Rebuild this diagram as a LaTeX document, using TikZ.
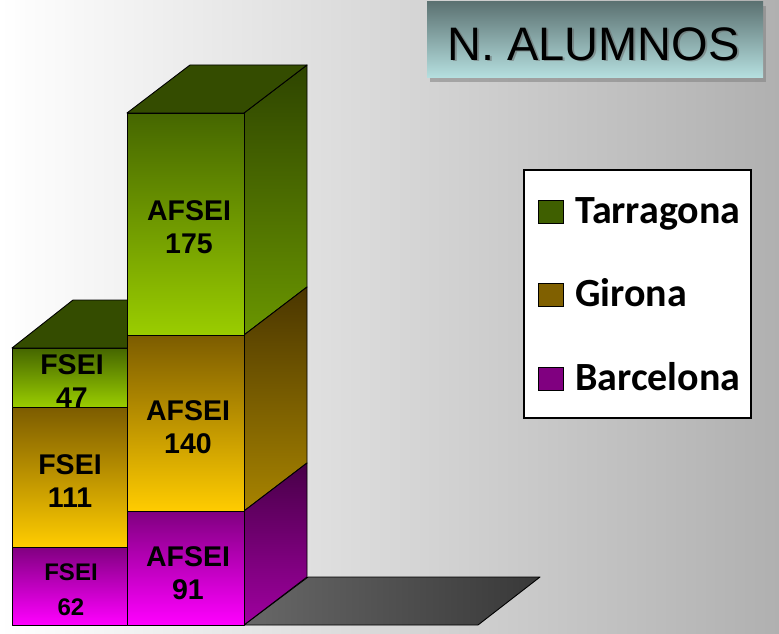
\documentclass[tikz,border=0pt]{standalone}
\usepackage{fontspec}
\setmainfont{Liberation Sans}
\newfontfamily\legfont{Carlito}
\usetikzlibrary{shadows}
\definecolor{bgright}{HTML}{B0B0B0}
\definecolor{tarA}{HTML}{456600}
\definecolor{tarB}{HTML}{9ACD00}
\definecolor{tarSA}{HTML}{2E4400}
\definecolor{tarSB}{HTML}{6A9600}
\definecolor{tarTop}{HTML}{344C00}
\definecolor{girA}{HTML}{7C5C00}
\definecolor{girB}{HTML}{FFCC00}
\definecolor{girSA}{HTML}{4A3600}
\definecolor{girSB}{HTML}{A88400}
\definecolor{barA}{HTML}{800080}
\definecolor{barB}{HTML}{FF00FF}
\definecolor{barSA}{HTML}{480048}
\definecolor{barSB}{HTML}{A000A0}
\definecolor{legTar}{HTML}{3F5F00}
\definecolor{legGir}{HTML}{806000}
\definecolor{legBar}{HTML}{800080}
\definecolor{titA}{HTML}{5C7272}
\definecolor{titB}{HTML}{B6E0E0}
\definecolor{floorA}{HTML}{686868}
\definecolor{floorB}{HTML}{383838}
\tikzset{
  face/.style={draw=black, line width=0.9pt, line join=round},
  lbl/.style={font=\bfseries\fontsize{28.5}{33}\selectfont, align=center, text=black, inner sep=0pt},
  lblsmall/.style={font=\bfseries\fontsize{24}{35}\selectfont, align=center, text=black, inner sep=0pt},
  legtext/.style={font=\legfont\bfseries\fontsize{40}{40}\selectfont, anchor=base west, inner sep=0pt},
  legsq/.style={draw=black, line width=0.9pt},
  titlefont/.style={anchor=base west, inner sep=0pt, font=\fontsize{47}{47}\selectfont}
}
\begin{document}
\begin{tikzpicture}[x=1pt,y=-1pt]
\useasboundingbox (0,0) rectangle (779,634);
% background
\shade[left color=white, right color=bgright] (0,0) rectangle (779,634);

% floor
\shade[face, left color=floorA, right color=floorB] (244,625) -- (478,625) -- (540,577) -- (308,577) -- cycle;

% left bar (FSEI)
\shade[face, top color=girA, bottom color=girB] (12,407) rectangle (128,547);
\shade[face, top color=barA, bottom color=barB] (12,547) rectangle (128,625);
\shade[face, top color=tarA, bottom color=tarB] (12,348) rectangle (128,407);
\fill[face, fill=tarTop] (12,348) -- (128,348) -- (191,300) -- (73,300) -- cycle;

% middle bar (AFSEI) sides
\shade[face, top color=tarSA, bottom color=tarSB] (244,113) -- (307,65) -- (307,287) -- (244,335) -- cycle;
\shade[face, top color=girSA, bottom color=girSB] (244,335) -- (307,287) -- (307,463) -- (244,511) -- cycle;
\shade[face, top color=barSA, bottom color=barSB] (244,511) -- (307,463) -- (307,577) -- (244,625) -- cycle;
\fill[face, fill=tarTop] (127,113) -- (244,113) -- (307,65) -- (190,65) -- cycle;
% middle bar front
\shade[face, top color=tarA, bottom color=tarB] (127,113) rectangle (244,335);
\shade[face, top color=girA, bottom color=girB] (127,335) rectangle (244,511);
\shade[face, top color=barA, bottom color=barB] (127,511) rectangle (244,625);

% labels
\node[lbl] (lA175) at (189,227) {AFSEI\\175};
\node[lbl] (lA140) at (188,427) {AFSEI\\140};
\node[lbl] (lA91) at (188,573) {AFSEI\\91};
\node[lbl] (lF47) at (72,381) {FSEI\\47};
\node[lbl] (lF111) at (70,481) {FSEI\\111};
\node[lblsmall] (lF62) at (71,590) {FSEI\\62};

% title
\fill[titA, drop shadow={opacity=0.55, shadow xshift=3pt, shadow yshift=-4pt}] (427,2) rectangle (763,78);
\shade[top color=titA, bottom color=titB] (427,2) rectangle (763,78);
\node[titlefont, text=black!60, opacity=0.5] (titsh) at (449,62) {N. ALUMNOS};
\node[titlefont, text=black] (title) at (447,60) {N. ALUMNOS};

% legend
\node[draw=black, line width=1.2pt, fill=white, minimum width=227pt, minimum height=248pt, inner sep=0pt] (legend) at (637.5,294) {};
\draw[legsq, fill=legTar] (538,200) rectangle (563,223);
\draw[legsq, fill=legGir] (538,283) rectangle (563,306);
\draw[legsq, fill=legBar] (538,367) rectangle (563,390);
\node[legtext] (ltar) at (575,223) {Tarragona};
\node[legtext] (lgir) at (575,306) {Girona};
\node[legtext] (lbar) at (575,390) {Barcelona};
\end{tikzpicture}
\end{document}
